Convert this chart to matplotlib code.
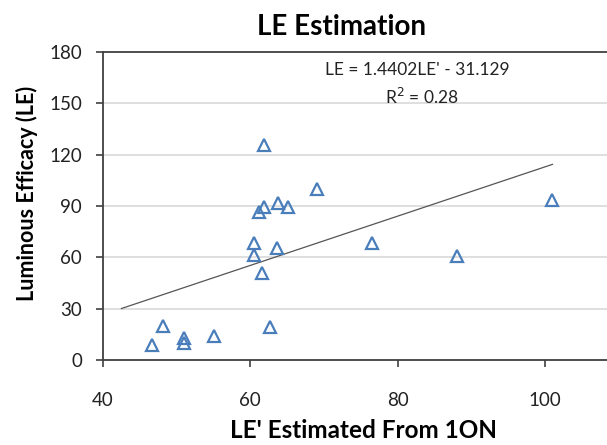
import numpy as np
import matplotlib
matplotlib.use("Agg")
import matplotlib.pyplot as plt

plt.rcParams['font.family'] = ['Lato', 'DejaVu Sans']

# LE' estimated from 1ON (x) vs measured luminous efficacy (y)
le_est = [61.9, 69.0, 61.9, 61.2, 63.8, 65.1, 60.5, 60.5, 63.6, 61.6,
          76.5, 62.6, 51.0, 51.0, 55.1, 46.6, 48.2, 88.1, 101.0]
le_meas = [125.7, 99.8, 89.6, 86.7, 92.0, 89.3, 68.2, 61.6, 65.7, 50.7,
           68.6, 19.1, 13.0, 9.8, 14.1, 8.8, 19.9, 60.8, 93.6]

slope = 1.4402
intercept = -31.129
trend_x = [42.5, 101.0]

x_ticks = [40, 60, 80, 100]
y_ticks = [0, 30, 60, 90, 120, 150, 180]

fig = plt.figure(figsize=(6.07, 4.45), dpi=100)
ax = fig.add_axes([103/607, 1 - 360/445, 1 - 103/607, (360 - 52)/445])

for yv in y_ticks[1:-1]:
    ax.axhline(yv, color='#d9d9d9', lw=1.2, zorder=0)

tx = np.array(trend_x)
ax.plot(tx, slope * tx + intercept, color='#555555', lw=0.9, zorder=2)

ax.plot(le_est, le_meas, ls='none', marker='^', ms=8.5, mfc='none',
        mec='#4a7ebb', mew=1.6, zorder=3)

ax.set_xlim(40, 108.4)
ax.set_ylim(0, 180)
ax.set_xticks(x_ticks)
ax.set_yticks(y_ticks)

for s in ['left', 'bottom', 'top']:
    ax.spines[s].set_color('#404040')
    ax.spines[s].set_linewidth(1.3)
ax.spines['right'].set_visible(False)

ax.tick_params(axis='both', direction='out', length=5, width=1.2,
               color='#404040', labelsize=13.5, labelcolor='#222222')
ax.tick_params(axis='y', pad=10)
ax.tick_params(axis='x', pad=18)

fig.text(341/607, 1 - 27/445, 'LE Estimation', ha='center', va='center',
         fontsize=20, fontweight='bold')
fig.text(364/607, 1 - 430/445, "LE' Estimated From 1ON", ha='center', va='center',
         fontsize=17.5, fontweight='bold')
fig.text(27/607, 1 - 193/445, 'Luminous Efficacy (LE)', ha='center', va='center',
         rotation=90, fontsize=15.5, fontweight='bold')

ax.text(0.623, 0.942, "LE = 1.4402LE' - 31.129", transform=ax.transAxes,
        ha='center', va='center', fontsize=12.5, color='#222222')
ax.text(0.633, 0.854, 'R$^2$ = 0.28', transform=ax.transAxes,
        ha='center', va='center', fontsize=12.5, color='#222222')

fig.savefig('out.png', dpi=100)
